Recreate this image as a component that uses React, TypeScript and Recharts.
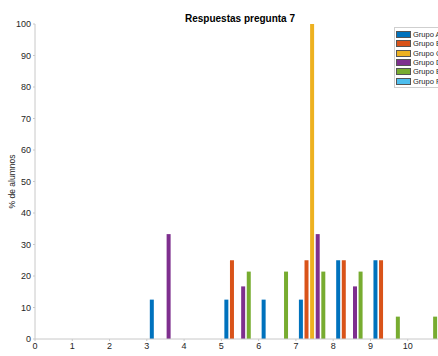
import React from "react";
import { ComposedChart, Bar, XAxis, YAxis } from "recharts";

// posiciones de cada grupo de barras en el eje "Valor"
const posiciones = [0.5, 1.5, 2.5, 3.5, 4.5, 5.5, 6.5, 7.5, 8.5, 9.5, 10.5];

const grupoA = [0, 0, 0, 12.5, 0, 12.5, 12.5, 12.5, 25, 25, 0];
const grupoB = [0, 0, 0, 0, 0, 25, 0, 25, 25, 25, 0];
const grupoC = [0, 0, 0, 0, 0, 0, 0, 100, 0, 0, 0];
const grupoD = [0, 0, 0, 33.3, 0, 16.7, 0, 33.3, 16.7, 0, 0];
const grupoE = [0, 0, 0, 0, 0, 21.4, 21.4, 21.4, 21.4, 7.1, 7.1];
const grupoF = [0, 0, 0, 0, 0, 0, 0, 0, 0, 0, 0];

const xTicks = [0, 1, 2, 3, 4, 5, 6, 7, 8, 9, 10];
const yTicks = [0, 10, 20, 30, 40, 50, 60, 70, 80, 90, 100];

const series = [
  { key: "A", name: "Grupo A", values: grupoA, color: "#0072BD" },
  { key: "B", name: "Grupo B", values: grupoB, color: "#D95319" },
  { key: "C", name: "Grupo C", values: grupoC, color: "#EDB120" },
  { key: "D", name: "Grupo D", values: grupoD, color: "#7E2F8E" },
  { key: "E", name: "Grupo E", values: grupoE, color: "#77AC30" },
  { key: "F", name: "Grupo F", values: grupoF, color: "#4DBEEE" },
];

const data = posiciones.map((valor, i) => {
  const row: Record<string, number> = { valor };
  series.forEach((s) => {
    row[s.key] = s.values[i];
  });
  return row;
});

const font = "'Liberation Sans', Arial, sans-serif";
const tickStyle = { fill: "#262626", fontSize: 9, fontFamily: font };

const Leyenda = () => (
  <div
    style={{
      position: "absolute",
      left: 394,
      top: 27,
      width: 60,
      border: "1px solid #cfcfcf",
      background: "#fff",
      padding: "2px 2px 1px 1px",
      boxSizing: "border-box",
    }}
  >
    {series.map((s) => (
      <div
        key={s.key}
        style={{
          display: "flex",
          alignItems: "center",
          height: 9.3,
          fontFamily: font,
          fontSize: 7.5,
          color: "#262626",
          whiteSpace: "nowrap",
        }}
      >
        <span
          style={{
            display: "inline-block",
            width: 15,
            height: 7,
            background: s.color,
            border: "0.5px solid #555",
            boxSizing: "border-box",
            marginRight: 2,
            flexShrink: 0,
          }}
        />
        {s.name}
      </div>
    ))}
  </div>
);

export default function App() {
  return (
    <div
      style={{
        position: "absolute",
        left: 0,
        top: 0,
        width: 438,
        height: 356,
        overflow: "hidden",
        background: "#fff",
      }}
    >
      <div
        style={{
          position: "absolute",
          top: 13,
          left: 0,
          width: 480,
          textAlign: "center",
          fontFamily: font,
          fontWeight: "bold",
          fontSize: 10,
          lineHeight: "12px",
          color: "#000",
        }}
      >
        Respuestas pregunta 7
      </div>
      <ComposedChart
        width={460}
        height={372}
        data={data}
        barGap={1.6}
        margin={{ top: 24, right: 15, bottom: 8, left: 0 }}
      >
        <XAxis
          dataKey="valor"
          type="number"
          domain={[0, 11]}
          ticks={xTicks}
          allowDataOverflow
          axisLine={{ stroke: "#c8c8c8" }}
          tickLine={{ stroke: "#c8c8c8" }}
          tickSize={2}
          tick={tickStyle}
          height={25}
          label={{
            value: "Valor",
            position: "insideBottom",
            offset: 0,
            style: { fill: "#262626", fontSize: 9, fontFamily: font },
          }}
        />
        <YAxis
          type="number"
          domain={[0, 100]}
          ticks={yTicks}
          axisLine={{ stroke: "#c8c8c8" }}
          tickLine={{ stroke: "#c8c8c8" }}
          tickSize={2}
          tick={tickStyle}
          width={35}
          label={{
            value: "% de alumnos",
            angle: -90,
            position: "insideLeft",
            offset: 12,
            style: {
              fill: "#262626",
              fontSize: 8.5,
              fontFamily: font,
              textAnchor: "middle",
            },
          }}
        />
        {series.map((s) => (
          <Bar
            key={s.key}
            dataKey={s.key}
            name={s.name}
            fill={s.color}
            barSize={4}
            isAnimationActive={false}
          />
        ))}
      </ComposedChart>
      <Leyenda />
    </div>
  );
}
